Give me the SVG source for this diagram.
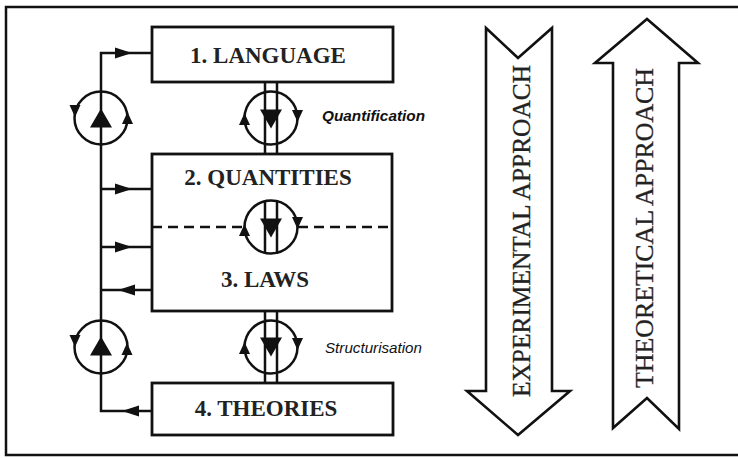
<svg xmlns="http://www.w3.org/2000/svg" xmlns:xlink="http://www.w3.org/1999/xlink" width="738" height="458" viewBox="0 0 738 458">
<style>
.box{fill:#fff;stroke:#111;stroke-width:2.8}
.ln{fill:none;stroke:#111;stroke-width:2.5}
.dash{fill:none;stroke:#111;stroke-width:2.5;stroke-dasharray:10 6}
.cir{fill:none;stroke:#111;stroke-width:2.5}
.blk{fill:#111;stroke:none}
.lbl{font-family:"Liberation Serif","Times New Roman",serif;font-weight:bold;font-size:23px;fill:#222;text-anchor:middle}
.big{font-family:"Liberation Serif","Times New Roman",serif;font-size:26px;fill:#222;text-anchor:middle;stroke:#222;stroke-width:0.3}
.it{font-family:"Liberation Sans",Arial,sans-serif;font-style:italic;font-size:15px;fill:#111}
.arrow{fill:#fff;stroke:#111;stroke-width:2.6;stroke-linejoin:miter}
</style>
<defs>
<path id="ah" d="M0,0 L-17,-5.5 L-17,5.5 Z"/>
<path id="ca" d="M0,0 L-5.5,-12 L5.5,-12 Z"/>
<path id="tri" d="M-11,-9.5 L11,-9.5 L0,9.5 Z"/>
</defs>
<rect width="738" height="458" fill="#fff"/>
<path class="ln" d="M742,7 H6 V455 H742" stroke-width="2.8"/>

<g id="n1">
<rect class="box" x="152" y="27" width="241" height="55"/>
<text class="lbl" x="268" y="63">1. LANGUAGE</text>
</g>
<g id="n23">
<rect class="box" x="152" y="154" width="240" height="157"/>
<path class="dash" d="M152,227 H244 M298,227 H392"/>
<text class="lbl" x="268" y="185">2. QUANTITIES</text>
<text class="lbl" x="265" y="287">3. LAWS</text>
</g>
<g id="n4">
<rect class="box" x="152" y="383" width="241" height="52"/>
<text class="lbl" x="266" y="416">4. THEORIES</text>
</g>

<g id="connectors">
<path class="ln" d="M152,53 H101 V411 H152"/>
<path class="ln" d="M101,189 H152 M101,247 H152 M101,290 H152"/>
<path class="ln" d="M265,82 V154 M277,82 V154"/>
<path class="ln" d="M265,200 V254 M277,200 V254"/>
<path class="ln" d="M265,311 V383 M277,311 V383"/>
<g class="blk">
<use xlink:href="#ah" transform="translate(132,53)"/>
<use xlink:href="#ah" transform="translate(132,189)"/>
<use xlink:href="#ah" transform="translate(132,247)"/>
<use xlink:href="#ah" transform="translate(118,290) rotate(180)"/>
<use xlink:href="#ah" transform="translate(122,411) rotate(180)"/>
</g>
<circle class="cir" cx="101" cy="118" r="26.5"/>
<circle class="cir" cx="101" cy="347" r="26.5"/>
<g class="blk">
<use xlink:href="#tri" transform="translate(101,118) rotate(180)"/>
<use xlink:href="#ca" transform="translate(75,117)"/>
<use xlink:href="#ca" transform="translate(127.5,112) rotate(180)"/>
<use xlink:href="#tri" transform="translate(101,346) rotate(180)"/>
<use xlink:href="#ca" transform="translate(75,347)"/>
<use xlink:href="#ca" transform="translate(127,343) rotate(180)"/>
</g>
<circle class="cir" cx="271" cy="118" r="26.5"/>
<circle class="cir" cx="271" cy="227" r="26.5"/>
<circle class="cir" cx="271" cy="347" r="26.5"/>
<g class="blk">
<use xlink:href="#tri" transform="translate(271,119)"/>
<use xlink:href="#ca" transform="translate(244.5,113) rotate(180)"/>
<use xlink:href="#ca" transform="translate(297.5,122)"/>
<use xlink:href="#tri" transform="translate(271,228)"/>
<use xlink:href="#ca" transform="translate(244.5,224) rotate(180)"/>
<use xlink:href="#ca" transform="translate(297.5,229)"/>
<use xlink:href="#tri" transform="translate(271,347)"/>
<use xlink:href="#ca" transform="translate(244.5,342) rotate(180)"/>
<use xlink:href="#ca" transform="translate(297.5,350)"/>
</g>
</g>

<g id="labels">
<text class="it" x="322" y="121" font-weight="bold" textLength="103" lengthAdjust="spacingAndGlyphs">Quantification</text>
<text class="it" x="325" y="353" textLength="97" lengthAdjust="spacingAndGlyphs">Structurisation</text>
</g>
<g id="exp">
<path class="arrow" d="M486,28 L518,58 L552,28 L552,391 L570,391 L518,435 L467,391 L486,391 Z"/>
<text class="big" font-family="Liberation Serif, serif" transform="translate(530,231) rotate(-90)" textLength="332" lengthAdjust="spacingAndGlyphs">EXPERIMENTAL APPROACH</text>
</g>
<g id="theo">
<path class="arrow" d="M647,19 L698,63 L679,63 L679,429 L647,398 L613,428 L613,63 L595,63 Z"/>
<text class="big" font-family="Liberation Serif, serif" transform="translate(653,228) rotate(-90)" textLength="320" lengthAdjust="spacingAndGlyphs">THEORETICAL APPROACH</text>
</g>
</svg>
